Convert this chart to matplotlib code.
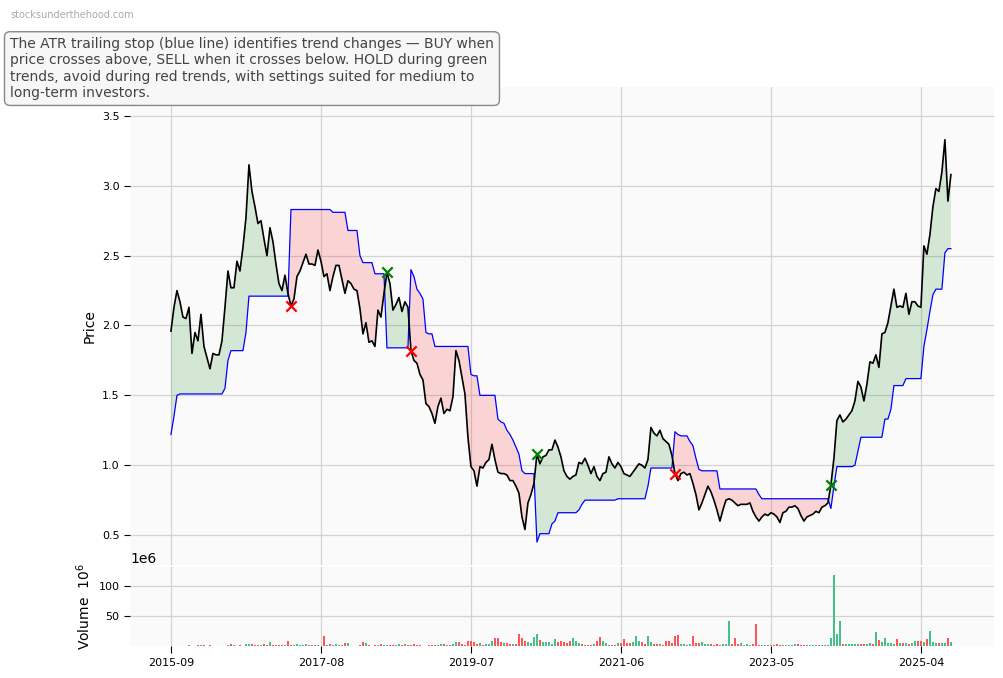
# ATR trailing stop chart, weekly index, sampled every two weeks

import numpy as np
import pandas as pd
import matplotlib
matplotlib.use('Agg')
import matplotlib.pyplot as plt

# week index of each sample (start week 2015-09-07)
start_date = '2015-09-07'
n_points = 261

# closing price, one value every two weeks
price = [
    1.96, 2.13, 2.25, 2.17, 2.06, 2.05, 2.13, 1.80, 1.95, 1.89,
    2.08, 1.85, 1.77, 1.69, 1.80, 1.79, 1.79, 1.89, 2.13, 2.39,
    2.27, 2.27, 2.46, 2.39, 2.56, 2.77, 3.15, 2.96, 2.85, 2.73,
    2.75, 2.62, 2.50, 2.70, 2.60, 2.44, 2.30, 2.25, 2.36, 2.23,
    2.14, 2.19, 2.35, 2.39, 2.45, 2.51, 2.44, 2.44, 2.43, 2.54,
    2.46, 2.35, 2.37, 2.25, 2.35, 2.43, 2.43, 2.33, 2.23, 2.32,
    2.30, 2.26, 2.25, 2.12, 1.94, 2.02, 1.88, 1.89, 1.85, 2.11,
    2.06, 2.23, 2.38, 2.30, 2.11, 2.15, 2.20, 2.10, 2.17, 2.13,
    1.82, 1.75, 1.73, 1.65, 1.61, 1.44, 1.42, 1.37, 1.30, 1.42,
    1.48, 1.37, 1.40, 1.39, 1.49, 1.82, 1.75, 1.63, 1.51, 1.20,
    0.99, 0.96, 0.85, 0.99, 0.98, 1.02, 1.04, 1.15, 1.04, 0.95,
    0.94, 0.94, 0.93, 0.89, 0.89, 0.85, 0.80, 0.63, 0.54, 0.73,
    0.79, 0.87, 1.08, 1.01, 1.06, 1.07, 1.11, 1.11, 1.18, 1.13,
    1.06, 0.96, 0.92, 0.90, 0.92, 0.93, 1.02, 1.01, 1.05, 1.00,
    0.94, 0.99, 0.92, 0.89, 0.94, 0.95, 1.06, 1.01, 0.98, 1.02,
    0.99, 0.94, 0.93, 0.92, 0.95, 0.98, 1.01, 1.00, 0.98, 1.04,
    1.27, 1.23, 1.21, 1.25, 1.19, 1.17, 1.15, 1.07, 0.94, 0.89,
    0.94, 0.95, 0.93, 0.94, 0.87, 0.79, 0.68, 0.73, 0.79, 0.85,
    0.81, 0.75, 0.68, 0.60, 0.68, 0.75, 0.76, 0.75, 0.73, 0.71,
    0.72, 0.72, 0.72, 0.73, 0.67, 0.63, 0.60, 0.63, 0.65, 0.64,
    0.66, 0.65, 0.63, 0.59, 0.66, 0.67, 0.70, 0.70, 0.71, 0.69,
    0.64, 0.60, 0.63, 0.64, 0.65, 0.67, 0.66, 0.70, 0.71, 0.73,
    0.86, 1.05, 1.32, 1.36, 1.31, 1.33, 1.36, 1.39, 1.46, 1.60,
    1.56, 1.46, 1.58, 1.74, 1.73, 1.79, 1.70, 1.94, 1.95, 2.02,
    2.14, 2.26, 2.13, 2.14, 2.13, 2.23, 2.08, 2.17, 2.17, 2.14,
    2.13, 2.57, 2.51, 2.65, 2.85, 2.98, 2.96, 3.10, 3.33, 2.89,
    3.08,
]

# ATR trailing stop (blue line)
stop = [
    1.22, 1.35, 1.50, 1.51, 1.51, 1.51, 1.51, 1.51, 1.51, 1.51,
    1.51, 1.51, 1.51, 1.51, 1.51, 1.51, 1.51, 1.51, 1.55, 1.75,
    1.82, 1.82, 1.82, 1.82, 1.82, 1.95, 2.21, 2.21, 2.21, 2.21,
    2.21, 2.21, 2.21, 2.21, 2.21, 2.21, 2.21, 2.21, 2.21, 2.21,
    2.83, 2.83, 2.83, 2.83, 2.83, 2.83, 2.83, 2.83, 2.83, 2.83,
    2.83, 2.83, 2.83, 2.83, 2.81, 2.81, 2.81, 2.81, 2.81, 2.68,
    2.68, 2.68, 2.68, 2.50, 2.45, 2.45, 2.45, 2.45, 2.37, 2.37,
    2.37, 2.37, 1.84, 1.84, 1.84, 1.84, 1.84, 1.84, 1.84, 1.84,
    2.40, 2.35, 2.26, 2.23, 2.19, 1.95, 1.94, 1.94, 1.85, 1.85,
    1.85, 1.85, 1.85, 1.85, 1.85, 1.85, 1.85, 1.85, 1.85, 1.85,
    1.65, 1.64, 1.64, 1.50, 1.50, 1.50, 1.50, 1.50, 1.50, 1.33,
    1.31, 1.30, 1.25, 1.22, 1.18, 1.13, 1.08, 0.96, 0.94, 0.94,
    0.94, 0.94, 0.45, 0.51, 0.51, 0.51, 0.51, 0.58, 0.60, 0.66,
    0.66, 0.66, 0.66, 0.66, 0.66, 0.66, 0.68, 0.72, 0.75, 0.75,
    0.75, 0.75, 0.75, 0.75, 0.75, 0.75, 0.75, 0.75, 0.75, 0.76,
    0.76, 0.76, 0.76, 0.76, 0.76, 0.76, 0.76, 0.76, 0.76, 0.85,
    0.98, 0.98, 0.98, 0.98, 0.98, 0.98, 0.98, 0.98, 1.24, 1.22,
    1.21, 1.21, 1.21, 1.17, 1.14, 1.05, 0.97, 0.96, 0.96, 0.96,
    0.96, 0.96, 0.96, 0.83, 0.83, 0.83, 0.83, 0.83, 0.83, 0.83,
    0.83, 0.83, 0.83, 0.83, 0.83, 0.83, 0.79, 0.76, 0.76, 0.76,
    0.76, 0.76, 0.76, 0.76, 0.76, 0.76, 0.76, 0.76, 0.76, 0.76,
    0.76, 0.76, 0.76, 0.76, 0.76, 0.76, 0.76, 0.76, 0.76, 0.76,
    0.69, 0.85, 0.99, 0.99, 0.99, 0.99, 0.99, 0.99, 1.00, 1.10,
    1.20, 1.20, 1.20, 1.20, 1.20, 1.20, 1.20, 1.20, 1.33, 1.33,
    1.40, 1.57, 1.57, 1.57, 1.57, 1.62, 1.62, 1.62, 1.62, 1.62,
    1.62, 1.85, 1.97, 2.10, 2.22, 2.26, 2.26, 2.26, 2.52, 2.55,
    2.55,
]

# volume in millions of shares
volume = [
    0.5, 0.3, 0.3, 0.4, 0.3, 0.5, 1.7, 0.5, 0.4, 1.7,
    1.7, 1.5, 0.5, 1.7, 0.5, 0.4, 0.5, 0.4, 0.5, 1.7,
    3.0, 1.7, 0.6, 1.7, 0.8, 3.0, 3.0, 2.5, 1.7, 1.7,
    1.7, 3.0, 1.7, 6.5, 1.7, 1.7, 1.7, 1.7, 1.7, 8.3,
    1.7, 1.7, 3.0, 1.7, 1.0, 3.0, 1.7, 1.7, 1.0, 1.7,
    0.8, 16.5, 1.7, 3.0, 1.7, 3.0, 1.7, 1.7, 5.0, 5.0,
    0.5, 0.5, 0.5, 1.7, 6.5, 4.5, 1.7, 0.8, 1.7, 1.7,
    3.0, 1.7, 1.7, 1.7, 1.7, 1.0, 3.0, 1.0, 3.0, 1.7,
    1.7, 3.0, 1.7, 1.7, 0.5, 0.5, 1.7, 1.7, 1.7, 1.7,
    3.0, 3.0, 1.7, 1.7, 3.0, 6.7, 6.7, 3.0, 1.7, 8.3,
    8.3, 6.0, 3.5, 5.0, 2.0, 3.0, 3.0, 8.0, 13.3, 13.3,
    6.5, 5.0, 5.0, 3.0, 4.0, 3.0, 20.0, 13.3, 8.0, 6.0,
    5.0, 15.0, 20.0, 10.0, 6.0, 6.0, 6.5, 4.0, 11.7, 6.0,
    8.0, 6.0, 5.0, 8.0, 13.0, 9.0, 5.0, 4.0, 1.0, 1.0,
    1.0, 3.0, 9.0, 14.5, 8.0, 5.0, 2.0, 1.5, 1.5, 5.0,
    5.0, 10.8, 5.0, 5.0, 7.0, 16.0, 8.5, 6.0, 3.5, 17.0,
    6.0, 4.0, 3.0, 3.0, 2.0, 8.6, 8.6, 5.0, 16.0, 19.0,
    4.0, 3.5, 2.0, 3.0, 17.0, 5.0, 5.0, 7.0, 3.0, 3.0,
    3.0, 2.0, 3.0, 2.0, 3.0, 2.5, 41.0, 4.0, 14.0, 3.0,
    5.0, 2.0, 3.0, 2.0, 3.0, 36.0, 1.0, 1.0, 1.0, 1.0,
    1.0, 2.0, 3.5, 1.5, 1.5, 1.0, 1.0, 2.0, 3.5, 3.5,
    2.0, 1.0, 1.0, 1.0, 1.5, 2.0, 2.0, 1.5, 1.0, 1.0,
    13.0, 117.0, 20.0, 41.0, 4.0, 4.0, 3.0, 3.5, 3.5, 3.5,
    4.0, 3.0, 3.0, 5.0, 4.0, 23.0, 10.5, 7.0, 13.0, 5.0,
    5.0, 4.0, 12.0, 5.0, 5.0, 5.0, 4.0, 5.0, 8.6, 8.6,
    8.6, 7.0, 12.0, 25.0, 7.0, 5.0, 5.0, 5.0, 5.0, 14.0,
    7.0,
]

tick_weeks = [0, 100, 200, 300, 400, 500]
note = ("The ATR trailing stop (blue line) identifies trend changes \u2014 BUY when\n"
        "price crosses above, SELL when it crosses below. HOLD during green\n"
        "trends, avoid during red trends, with settings suited for medium to\n"
        "long-term investors.")

price = np.array(price)
stop = np.array(stop)
vol = np.array(volume) * 1e6
x = np.arange(n_points) * 2  # week number
dates = pd.date_range(start_date, periods=n_points, freq='14D')

up = price >= stop
flip = np.where(up[1:] != up[:-1])[0] + 1

bg = '#fafafa'
grid_c = '#d3d3d3'

fig = plt.figure(figsize=(10.04, 6.78), dpi=100)
ax = fig.add_axes([0.1295, 0.1667, 0.8605, 0.705])
axv = fig.add_axes([0.1295, 0.0472, 0.8605, 0.1165], sharex=ax)

for a in (ax, axv):
    a.set_facecolor(bg)
    a.grid(True, color=grid_c, linewidth=0.9)
    a.set_axisbelow(True)
    for s in a.spines.values():
        s.set_visible(False)
    a.tick_params(labelsize=8, length=4)

# Trend fills
ax.fill_between(x, price, stop, where=up, interpolate=True, color='green', alpha=0.15, linewidth=0)
ax.fill_between(x, price, stop, where=~up, interpolate=True, color='red', alpha=0.15, linewidth=0)

# Lines
ax.plot(x, stop, color='blue', linewidth=0.9)
ax.plot(x, price, color='black', linewidth=1.2)

# Signals
for k in flip:
    c = 'green' if up[k] else 'red'
    ax.scatter(x[k], price[k], marker='x', s=55, color=c, linewidths=1.6, zorder=5)

ax.set_ylim(0.286, 3.707)
ax.set_yticks([0.5, 1.0, 1.5, 2.0, 2.5, 3.0, 3.5])
ax.set_ylabel('Price', fontsize=10)
ax.tick_params(axis='x', labelbottom=False, length=0)

# Volume bars
vcol = ['#44c08a' if (k == 0 or price[k] >= price[k - 1]) else '#ff5555' for k in range(n_points)]
axv.bar(x, vol, width=1.8, color=vcol, linewidth=0)
axv.set_ylim(0, 131e6)
axv.set_yticks([50e6, 100e6])
axv.ticklabel_format(axis='y', style='sci', scilimits=(6, 6), useOffset=False)
axv.set_ylabel('Volume  $10^6$', fontsize=10)
axv.yaxis.get_offset_text().set_fontsize(10)

axv.set_xlim(-27.3, 548.7)
axv.set_xticks(tick_weeks)
axv.set_xticklabels([dates[w // 2].strftime('%Y-%m') for w in tick_weeks])
axv.tick_params(axis='x', length=5)

# Header texts
fig.text(0.01, 0.985, 'stocksunderthehood.com', fontsize=7, color='#aaaaaa', va='top')
fig.text(0.01, 0.945, note, fontsize=10, color='#444444', va='top', ha='left',
         linespacing=1.2,
         bbox=dict(boxstyle='round,pad=0.4', facecolor='#f7f7f7', edgecolor='#888888'))

fig.savefig('out.png', dpi=100)
